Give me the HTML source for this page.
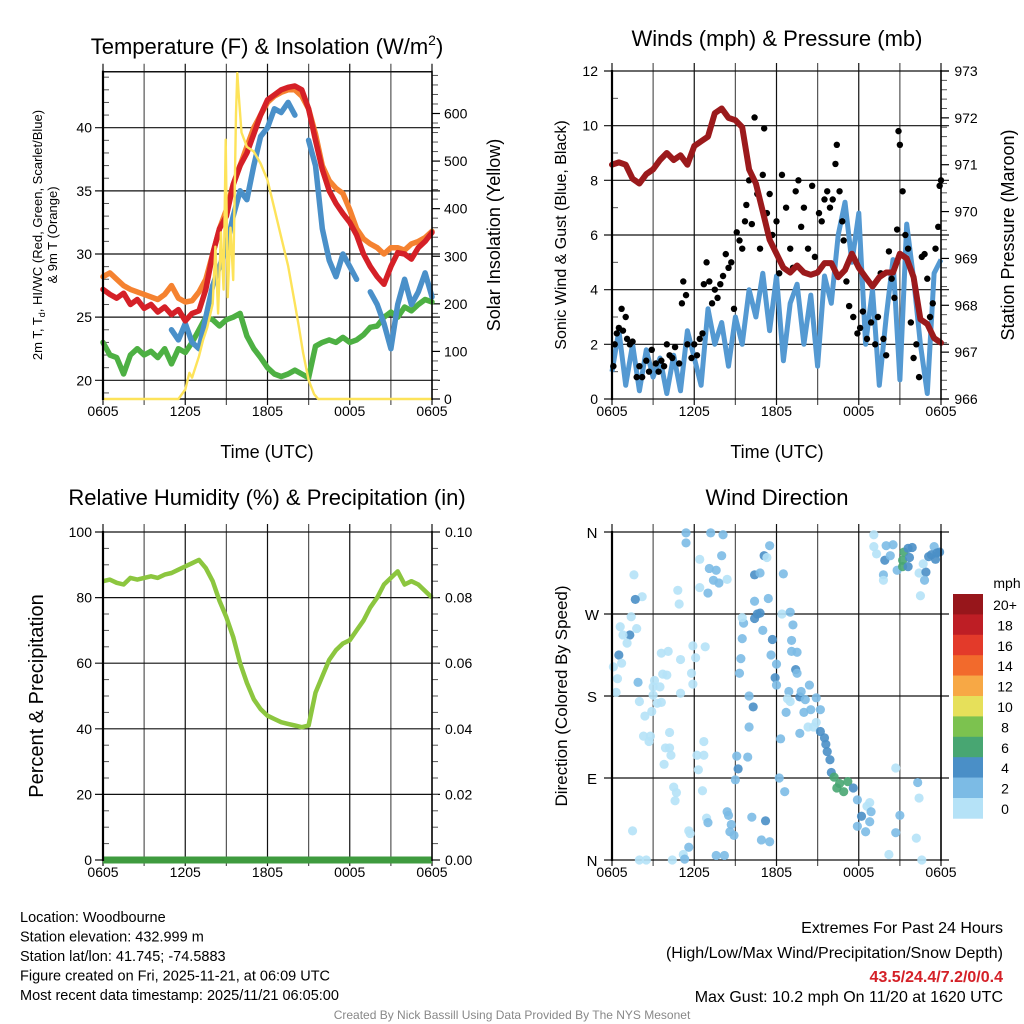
<!DOCTYPE html>
<html><head><meta charset="utf-8"><style>
html,body{margin:0;padding:0;background:#fff;}
svg{display:block;font-family:"Liberation Sans",Arial,sans-serif;}
</style></head><body>
<svg id="chart" width="1024" height="1024" viewBox="0 0 1024 1024" xmlns="http://www.w3.org/2000/svg">
<rect width="1024" height="1024" fill="#fff"/>
</svg>
<script>
// ---------- DATA ----------
const timeTickLabels = ["0605","1205","1805","0005","0605"];
const halfHours = [0,0.5,1,1.5,2,2.5,3,3.5,4,4.5,5,5.5,6,6.5,7,7.5,8,8.5,9,9.5,10,10.5,11,11.5,12,12.5,13,13.5,14,14.5,15,15.5,16,16.5,17,17.5,18,18.5,19,19.5,20,20.5,21,21.5,22,22.5,23,23.5,24];
const tempRed = [27.2,26.8,26.5,26.9,26,26.4,25.7,26,25.4,25.8,25.2,25.6,24.7,25.3,25.5,27.2,30,32,33,35.5,37,38,39.5,41,42.2,42.6,43,43.2,43.3,43,41.5,39,36.7,35,34,33.2,32.5,31.5,30,29,28.2,27.6,29,30.1,30,29.6,30.5,31,31.7];
const tempOrange = [28.2,28.5,28,27.5,27.2,27,26.8,26.6,26.4,26.8,27.5,26.5,26.2,26.3,27,28,30,32,33.5,35.5,37,38.5,40,41,42,42.5,42.8,43,43,42.5,41.5,39.5,37,35.8,35.2,34.8,33.5,32,31.2,30.8,30.5,30,30.5,30.5,30.3,30.8,31,31.3,31.8];
const tempBlue = [null,null,null,null,null,null,null,null,null,null,24,23.2,24.5,23,22.5,25,27.5,29,30.5,33,35,34.3,37,39.3,40,41.5,41.2,42,41,null,39,37,32,29.5,28.2,30,29,28,null,27,26,24.5,22.5,26,28,26,27,28.5,26.6];
const tempGreen = [23,22,21.8,20.5,22,22.5,22,22.3,21.8,22.5,21.3,22.5,22.2,23,24,25,24.8,24.3,24.8,25,25.3,23.5,22.5,21.8,21,20.5,20.3,20.5,20.8,20.5,20.2,22.7,23,23.2,23,23.4,23,23.2,23.6,24.2,24.3,25,25.4,25,25.8,25.5,26,26.4,26.2];
const solarHours = [0,5.5,6,6.3,6.5,7,7.3,7.6,8,8.2,8.4,8.6,8.8,8.95,9.1,9.3,9.5,9.7,9.8,9.9,10.1,10.5,11,11.5,12,12.5,13,13.5,14,14.3,14.6,15,15.4,15.7,24];
const solarVals = [0,0,20,55,45,90,124,150,200,320,180,350,230,545,214,360,250,600,685,640,560,530,520,495,460,400,340,280,200,150,97,40,10,0,0];
const tempTicks = [20,25,30,35,40];
const solarTicks = [0,100,200,300,400,500,600];

const windAvg = [1.0,2.5,0.5,2.0,0.3,1.8,0.8,1.5,0.2,1.6,0.3,2.5,1.5,0.5,3.3,2.0,2.8,1.2,3.0,2.0,4.0,3.0,4.6,2.5,4.5,1.4,3.5,4.2,2.0,3.8,1.2,4.5,3.5,6.0,7.2,5.0,6.8,2.0,4.0,0.5,3.0,5.1,0.7,6.4,4.4,2.0,0.2,4.6,5.1];
const pressure = [971.0,971.05,971.0,970.7,970.6,970.8,970.9,971.1,971.25,971.1,971.2,971.0,971.4,971.5,971.6,972.1,972.2,972.0,971.95,971.8,970.9,970.6,970.0,969.4,969.1,968.8,968.7,968.85,968.7,968.65,968.7,968.9,968.9,968.6,968.75,969.1,968.8,968.6,968.4,968.6,968.7,968.7,969.1,969.0,968.6,967.7,967.6,967.3,967.2];
const gustHours = [0.1,0.2,0.35,0.5,0.7,0.8,1.0,1.1,1.3,1.5,1.8,2.0,2.2,2.5,2.7,2.9,3.2,3.4,3.6,3.8,4.0,4.2,4.4,4.6,4.9,5.1,5.2,5.4,5.5,5.8,6.0,6.2,6.4,6.6,6.7,6.9,7.1,7.3,7.5,7.7,7.9,8.1,8.3,8.5,8.7,8.9,9.1,9.3,9.5,9.7,9.8,10.0,10.2,10.4,10.6,10.8,11.0,11.1,11.3,11.5,11.7,12.0,12.2,12.4,12.7,13.0,13.2,13.4,13.6,13.8,14.0,14.3,14.6,14.8,15.1,15.3,15.5,15.7,15.9,16.1,16.3,16.4,16.6,16.8,16.9,17.1,17.3,17.6,17.9,18.1,18.3,18.6,18.9,19.2,19.4,19.6,19.8,20.0,20.2,20.4,20.6,20.8,20.9,21.0,21.2,21.4,21.6,21.8,22.0,22.2,22.4,22.6,22.8,23.0,23.2,23.4,23.6,23.8,23.9,24.0];
const gustVals = [1.2,2.0,2.4,2.6,3.3,2.5,3.0,2.2,2.0,2.1,0.8,1.2,0.8,1.4,1.0,1.8,1.3,1.0,1.4,1.2,2.0,1.6,1.5,1.9,1.3,3.5,4.3,3.8,2.0,1.5,2.0,1.6,2.2,2.4,4.2,5.0,4.3,3.5,4.0,3.7,4.2,4.5,5.3,4.8,5.0,3.3,6.1,5.8,5.5,6.5,7.1,8.0,6.4,10.3,7.5,5.5,8.2,9.9,6.8,7.5,6.0,6.5,4.6,8.2,7.0,5.5,4.8,7.6,8.0,6.3,7.0,5.5,7.8,5.2,6.8,6.5,7.3,7.6,7.0,7.3,8.6,9.3,7.6,6.5,5.8,4.3,3.4,3.0,2.4,2.6,3.2,2.2,2.8,2.0,3.0,4.6,2.2,1.6,5.4,4.4,3.7,6.2,9.8,9.3,7.6,6.0,5.5,2.8,1.5,2.0,0.8,5.2,5.3,4.4,3.0,3.5,5.5,6.3,7.8,8.0];
const windTicks = [0,2,4,6,8,10,12];
const pressTicks = [966,967,968,969,970,971,972,973];

const rhVals = [85,85.5,84.5,84,86,85.5,86,86.5,86,87,87.5,88.5,89.5,90.5,91.5,89,85,79,74,68,60,54,49,46,44,43,42,41.5,41,40.5,41,51,56,61,64,66,67,70,73,77,80,84,86,88,84,85,84,82,80];
const precipVals = [0,0,0,0,0,0,0,0,0,0,0,0,0,0,0,0,0,0,0,0,0,0,0,0,0,0,0,0,0,0,0,0,0,0,0,0,0,0,0,0,0,0,0,0,0,0,0,0,0];
const rhTicks = [0,20,40,60,80,100];
const precipTicks = ["0.00","0.02","0.04","0.06","0.08","0.10"];

const dirHours = [5.4,5.4,7.2,8.1,6.4,8.0,7.1,7.6,8.4,7.4,7.8,7.0,6.4,4.8,4.9,2.2,1.7,1.6,1.4,0.6,1.3,1.8,0.8,1.1,0.5,0.7,0.1,0.4,0.3,1.9,2.0,3.1,3.0,3.5,3.0,3.6,3.3,2.9,2.4,3.6,4.1,5.0,5.9,6.8,6.1,5.8,3.7,4.0,5.9,5.0,4.2,2.3,2.8,2.7,6.7,3.9,4.2,4.3,3.8,6.2,6.7,6.3,4.5,4.7,4.6,6.6,1.5,5.6,5.7,5.6,5.2,5.3,2.0,2.5,4.4,6.9,7.0,8.4,8.5,8.7,8.6,8.9,7.6,8.2,9.1,9.9,9.2,9.0,10.2,11.2,10.9,11.5,12.6,12.2,12.3,10.0,10.3,10.0,9.3,9.4,9.5,9.6,9.5,10.4,10.6,10.8,11.0,10.4,11.4,10.4,10.8,11.1,11.3,11.5,12.5,12.4,13.0,13.2,13.1,11.7,11.6,12.0,11.9,12.0,13.1,13.5,13.4,13.5,12.9,12.8,13.0,13.7,13.8,14.4,14.1,14.9,12.7,14.0,14.5,15.2,13.7,14.3,14.7,14.9,15.2,15.5,15.6,15.7,15.9,16.0,16.2,16.6,16.4,16.9,17.2,17.6,17.9,18.8,18.6,18.9,18.2,17.9,18.5,18.8,20.7,21.0,20.7,20.2,22.3,22.4,22.2,22.6,19.1,19.1,19.3,20.0,20.5,19.9,20.3,20.8,19.8,19.8,21.3,21.2,21.2,21.6,21.9,21.7,21.6,22.4,22.9,22.8,22.5,23.5,23.1,23.3,23.7,23.9,23.6,22.7];
const dirDeg = [359,348,359,357,330,334,320,318,308,307,304,293,299,296,281,289,286,313,267,256,247,254,247,238,225,216,212,199,184,195,174,197,190,190,181,173,172,163,158,227,229,220,235,234,222,205,204,203,193,183,140,136,136,130,130,123,123,115,105,115,115,99,80,74,65,76,32,32,29,14,6,1,0,0,0,46,41,53,49,39,31,27,5,5,114,113,100,88,47,43,22,20,75,90,133,146,168,180,205,221,243,260,266,265,270,271,252,284,287,313,315,334,332,345,314,270,272,258,241,242,225,215,200,192,229,228,209,205,185,177,174,179,185,192,176,178,162,162,165,165,139,146,146,151,141,134,127,119,110,96,91,84,79,75,86,79,66,63,59,53,48,37,31,42,101,49,30,6,85,68,24,0,357,344,336,345,346,329,334,318,313,307,338,329,322,342,343,332,322,315,316,307,290,344,333,335,337,338,330,325];
const dirSpeed = [3,3,3,3,1,3,3,3,1,3,3,3,1,1,1,1,5,1,1,1,5,1,1,1,5,1,1,1,1,3,1,1,1,1,1,1,1,1,1,1,1,1,1,1,1,1,1,1,1,1,1,1,1,1,1,1,1,1,1,1,1,1,1,1,1,1,1,1,1,3,1,3,1,1,1,1,3,3,3,3,3,3,3,3,3,3,5,3,3,5,3,3,3,3,3,3,5,3,3,3,3,3,1,5,5,5,3,3,3,5,3,5,1,3,3,1,3,3,3,5,3,3,5,3,3,3,5,3,3,1,1,5,3,3,3,3,3,3,3,3,3,1,1,1,5,5,5,5,5,5,7,7,7,7,7,5,3,1,1,3,5,3,3,3,1,3,3,1,3,1,1,1,1,1,1,3,3,5,3,3,3,1,7,7,7,5,5,5,5,1,5,3,1,3,5,5,5,5,5,1];
const dirTickLabels = ["N","E","S","W","N"];
const speedBins = ["0","2","4","6","8","10","12","14","16","18","20+"];
const speedColors = ["#b5e2f7","#7cbbe5","#4a8fc7","#48a672","#7cc24f","#e6e05a","#f7a845","#f26a2c","#e33a2a","#be1e25","#97161b"];

// ---------- HELPERS ----------
const NS = "http://www.w3.org/2000/svg";
const svg = document.getElementById("chart");
function mk(tag, attrs, parent) {
  const e = document.createElementNS(NS, tag);
  for (const k in attrs) e.setAttribute(k, attrs[k]);
  (parent || svg).appendChild(e);
  return e;
}
function txt(x, y, s, size, anchor, parent, extra) {
  const t = mk("text", Object.assign({x: x, y: y, "font-size": size, "text-anchor": anchor || "middle", fill: "#000"}, extra || {}), parent);
  t.textContent = s;
  return t;
}
function linScale(d0, d1, r0, r1) { return v => r0 + (v - d0) * (r1 - r0) / (d1 - d0); }
function pathFrom(xs, ys, xf, yf) {
  let d = "", pen = false;
  for (let i = 0; i < xs.length; i++) {
    if (ys[i] === null) { pen = false; continue; }
    d += (pen ? "L" : "M") + xf(xs[i]).toFixed(1) + "," + yf(ys[i]).toFixed(1);
    pen = true;
  }
  return d;
}
function frame(g, x0, y0, x1, y1, xf) {
  for (let h = 0; h <= 24; h += 3) {
    const l = mk("line", {x1: xf(h), x2: xf(h), y1: y0 - 8, y2: y1 + 6, stroke: (h % 6 === 0) ? "#111" : "#555", "stroke-width": 1.2}, g);
    
    
  }
  for (let i = 0; i < timeTickLabels.length; i++) {
    const t = txt(xf(i * 6), y1 + 17, timeTickLabels[i], 14, "middle", g);
    
    
  }
}
function hline(g, x0, x1, y, w) {
  const l = mk("line", {x1: x0 - 8, x2: x1 + 8, y1: y, y2: y, stroke: "#111", "stroke-width": w || 1.2}, g);
  
  
}
function spine(g, x0, y0, x1, y1) {
  const a = mk("line", {x1: x0, x2: x0, y1: y0 - 1, y2: y1 + 1, stroke: "#000", "stroke-width": 2.2}, g);
  
  
  const b = mk("line", {x1: x1, x2: x1, y1: y0 - 1, y2: y1 + 1, stroke: "#000", "stroke-width": 1.5}, g);
  
  
}
function minorTicks(g, x, vals, yf, dir) {
  vals.forEach(v => {
    const t = mk("line", {x1: x, x2: x + dir * 6, y1: yf(v), y2: yf(v), stroke: "#555", "stroke-width": 1}, g);
    
    
  });
}

// ---------- PANEL 1: Temperature ----------
(function () {
  const g = mk("g", {});
  
  
  const X0 = 103, X1 = 432, Y0 = 71.7, Y1 = 399;
  const xf = linScale(0, 24, X0, X1);
  const yf = linScale(20, 40, 380.3, 127.7);
  const sf = linScale(0, 600, 399, 113.5);
  frame(g, X0, Y0, X1, Y1, xf);
  hline(g, X0 + 8, X1 - 8, Y0, 1.5);
  hline(g, X0 + 8, X1 - 8, Y1, 1.5);
  tempTicks.forEach(v => {
    hline(g, X0, X1, yf(v));
    const t = txt(92, yf(v) + 5, String(v), 14, "end", g);
    
    
  });
  const minors = [];
  for (let v = 19; v <= 44; v++) if (v % 5) minors.push(v);
  minorTicks(g, X0, minors, yf, 1);
  solarTicks.forEach(v => {
    const tk = mk("line", {x1: X1, x2: X1 + 8, y1: sf(v), y2: sf(v), stroke: "#000", "stroke-width": 1.2}, g);
    
    
    const t = txt(444, sf(v) + 5, String(v), 14, "start", g);
    
    
  });
  const sm = [];
  for (let v = 20; v <= 680; v += 20) if (v % 100) sm.push(v);
  minorTicks(g, X1, sm, sf, 1);
  const series = [[tempOrange, "#f58230", "orange-9m-temp-line"], [tempGreen, "#4db043", "green-dewpoint-line"], [tempBlue, "#4a90c9", "blue-windchill-line"], [tempRed, "#d52027", "red-2m-temp-line"]];
  series.forEach(s => {
    const p = mk("path", {d: pathFrom(halfHours, s[0], xf, yf), fill: "none", stroke: s[1], "stroke-width": 5.5, "stroke-linejoin": "round", "stroke-linecap": "round"}, g);
    
    
  });
  const sp = mk("path", {d: pathFrom(solarHours, solarVals, xf, sf), fill: "none", stroke: "#fde35a", "stroke-width": 2.4, "stroke-linejoin": "round"}, g);
  
  
  spine(g, X0, Y0, X1, Y1);
  const title = txt(267, 54, "Temperature (F) & Insolation (W/m", 22, "middle", g);
  const sup = mk("tspan", {dy: -9, "font-size": 14}, title); sup.textContent = "2";
  const cl = mk("tspan", {dy: 9}, title); cl.textContent = ")";
  
  
  const xt = txt(267, 458, "Time (UTC)", 18, "middle", g);
  
  
  const yt = mk("text", {transform: "translate(42,235) rotate(-90)", "font-size": 13, "text-anchor": "middle"}, g);
  yt.innerHTML = '2m T, T<tspan font-size="9" dy="3">d</tspan><tspan dy="-3">, HI/WC (Red, Green, Scarlet/Blue)</tspan>';
  
  
  const yt2 = txt(0, 0, "& 9m T (Orange)", 13, "middle", g, {transform: "translate(57,235) rotate(-90)"});
  
  
  const rt = txt(0, 0, "Solar Insolation (Yellow)", 18, "middle", g, {transform: "translate(500,235) rotate(-90)"});
  
  
})();

// ---------- PANEL 2: Winds ----------
(function () {
  const g = mk("g", {});
  
  
  const X0 = 612, X1 = 941, Y0 = 71, Y1 = 399;
  const xf = linScale(0, 24, X0, X1);
  const yf = linScale(0, 12, Y1, Y0);
  const pf = linScale(966, 973, Y1, Y0);
  frame(g, X0, Y0, X1, Y1, xf);
  windTicks.forEach(v => {
    hline(g, X0, X1, yf(v));
    const t = txt(598, yf(v) + 5, String(v), 14, "end", g);
    
    
  });
  minorTicks(g, X0, [1, 3, 5, 7, 9, 11], yf, 1);
  pressTicks.forEach(v => {
    const tk = mk("line", {x1: X1, x2: X1 + 8, y1: pf(v), y2: pf(v), stroke: "#000", "stroke-width": 1.2}, g);
    
    
    const t = txt(966, pf(v) + 5, String(v), 14, "middle", g);
    
    
  });
  const pm = [];
  for (let v = 966.2; v < 973; v += 0.2) if (Math.abs(v - Math.round(v)) > 0.05) pm.push(v);
  minorTicks(g, X1, pm, pf, 1);
  const wp = mk("path", {d: pathFrom(halfHours, windAvg, xf, yf), fill: "none", stroke: "#5499d2", "stroke-width": 5, "stroke-linejoin": "round"}, g);
  
  
  for (let i = 0; i < gustHours.length; i++) {
    const c = mk("circle", {cx: xf(gustHours[i]), cy: yf(gustVals[i]), r: 3.2, fill: "#000"}, g);
    
    
  }
  const pp = mk("path", {d: pathFrom(halfHours, pressure, xf, pf), fill: "none", stroke: "#9b1a1c", "stroke-width": 6, "stroke-linejoin": "round", "stroke-linecap": "round"}, g);
  
  
  spine(g, X0, Y0, X1, Y1);
  const title = txt(777, 46, "Winds (mph) & Pressure (mb)", 22, "middle", g);
  
  
  const xt = txt(777, 458, "Time (UTC)", 18, "middle", g);
  
  
  const yt = txt(0, 0, "Sonic Wind & Gust (Blue, Black)", 16, "middle", g, {transform: "translate(566,235) rotate(-90)"});
  
  
  const rt = txt(0, 0, "Station Pressure (Maroon)", 18, "middle", g, {transform: "translate(1014,235) rotate(-90)"});
  
  
})();

// ---------- PANEL 3: RH ----------
(function () {
  const g = mk("g", {});
  
  
  const X0 = 103, X1 = 432, Y0 = 532, Y1 = 860;
  const xf = linScale(0, 24, X0, X1);
  const yf = linScale(0, 100, Y1, Y0);
  const pf = linScale(0, 0.1, Y1, Y0);
  frame(g, X0, Y0, X1, Y1, xf);
  rhTicks.forEach(v => {
    hline(g, X0, X1, yf(v));
    const t = txt(92, yf(v) + 5, String(v), 14, "end", g);
    
    
  });
  const minors = [];
  for (let v = 5; v < 100; v += 5) if (v % 20) minors.push(v);
  minorTicks(g, X0, minors, yf, 1);
  precipTicks.forEach(s => {
    const v = parseFloat(s);
    const t = txt(445, pf(v) + 5, s, 14, "start", g);
    
    
  });
  const pm = [];
  for (let v = 0.005; v < 0.1; v += 0.005) pm.push(v);
  minorTicks(g, X1, pm, pf, 1);
  const rp = mk("path", {d: pathFrom(halfHours, rhVals, xf, yf), fill: "none", stroke: "#8cc63f", "stroke-width": 4.5, "stroke-linejoin": "round"}, g);
  
  
  const pr = mk("path", {d: pathFrom(halfHours, precipVals, xf, pf), fill: "none", stroke: "#3f9b3f", "stroke-width": 7}, g);
  
  
  spine(g, X0, Y0, X1, Y1);
  const title = txt(267, 505, "Relative Humidity (%) & Precipitation (in)", 22, "middle", g);
  
  
  const yt = txt(0, 0, "Percent & Precipitation", 20, "middle", g, {transform: "translate(43,696) rotate(-90)"});
  
  
})();

// ---------- PANEL 4: Wind Direction ----------
(function () {
  const g = mk("g", {});
  
  
  const X0 = 612, X1 = 941, Y0 = 532, Y1 = 860;
  const xf = linScale(0, 24, X0, X1);
  const yf = linScale(0, 360, Y1, Y0);
  frame(g, X0, Y0, X1, Y1, xf);
  dirTickLabels.forEach((s, i) => {
    hline(g, X0, X1, yf(i * 90));
    const t = txt(592, yf(i * 90) + 6, s, 15, "middle", g);
    
    
  });
  for (let i = 0; i < dirHours.length; i++) {
    const bin = Math.min(10, Math.floor(dirSpeed[i] / 2));
    const c = mk("circle", {cx: xf(dirHours[i]), cy: yf(dirDeg[i]), r: 4.6, fill: speedColors[bin], "fill-opacity": 0.9}, g);
    
    
  }
  spine(g, X0, Y0, X1, Y1);
  const title = txt(777, 505, "Wind Direction", 22, "middle", g);
  
  
  const yt = txt(0, 0, "Direction (Colored By Speed)", 17, "middle", g, {transform: "translate(567,696) rotate(-90)"});
  
  
  const cb = mk("g", {}, g);
  
  
  const top = 594, bh = 20.4;
  speedBins.forEach((s, i) => {
    const idx = 10 - i;
    const r = mk("rect", {x: 953, y: top + i * bh, width: 30, height: bh + 0.3, fill: speedColors[idx]}, cb);
    
    
    const t = txt(1005, top + i * bh + 16, speedBins[idx], 14, "middle", cb);
    
    
  });
  const u = txt(1007, 588, "mph", 14, "middle", cb);
  
  
})();

// ---------- FOOTER TEXT ----------
(function () {
  const g = mk("g", {});
  
  
  const lines = ["Location: Woodbourne", "Station elevation: 432.999 m", "Station lat/lon: 41.745; -74.5883", "Figure created on Fri, 2025-11-21, at 06:09 UTC", "Most recent data timestamp: 2025/11/21 06:05:00"];
  lines.forEach((s, i) => {
    const t = txt(20, 922 + i * 19.5, s, 14.5, "start", g);
    
    
  });
  const g2 = mk("g", {});
  
  
  const a = txt(1003, 933, "Extremes For Past 24 Hours", 16, "end", g2);
  
  
  const b = txt(1003, 958, "(High/Low/Max Wind/Precipitation/Snow Depth)", 16, "end", g2);
  
  
  const c = txt(1003, 982, "43.5/24.4/7.2/0/0.4", 16, "end", g2, {fill: "#d42027", "font-weight": "bold"});
  
  
  const d = txt(1003, 1002, "Max Gust: 10.2 mph On 11/20 at 1620 UTC", 16, "end", g2);
  
  
  const f = txt(512, 1019, "Created By Nick Bassill Using Data Provided By The NYS Mesonet", 12, "middle", null, {fill: "#888"});
  
  
})();
</script>
</body></html>
